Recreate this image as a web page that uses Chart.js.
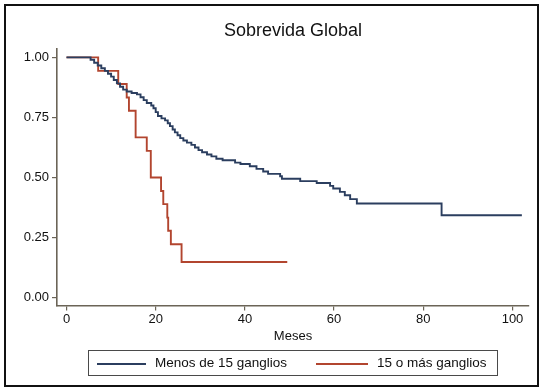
<!DOCTYPE html>
<html>
<head>
<meta charset="utf-8">
<script src="https://cdn.jsdelivr.net/npm/chart.js@4.4.1/dist/chart.umd.min.js"></script>
<style>
  html, body { margin: 0; padding: 0; background: #fff; }
  body { width: 543px; height: 389px; position: relative; overflow: hidden; font-family: "Liberation Sans", Arial, sans-serif; }
  #c { position: absolute; left: 0; top: 0; }
  #frame { position: absolute; left: 4px; top: 4px; width: 531px; height: 379px; border: 2px solid #111; pointer-events: none; }
  #legend { position: absolute; left: 88px; top: 350px; width: 408px; height: 24px; border: 1.5px solid #4a4a4a; }
  .sw { position: absolute; height: 1.8px; top: 12px; }
  .lb { position: absolute; top: 3px; font-size: 13.5px; line-height: 18px; color: #111; white-space: nowrap; }
</style>
</head>
<body>
<canvas id="c" width="543" height="389"></canvas>
<div id="frame"></div>
<div id="legend"></div>
<script>
// ---- data ----
const seriesNames = ["Menos de 15 ganglios", "15 o más ganglios"];
const seriesColors = ["#2b3e5f", "#b2452f"];

const menosTime = [0, 5.4, 6.2, 7.0, 7.8, 8.6, 9.3, 10.0, 10.6, 11.3, 12.0, 12.7, 13.5, 14.6, 15.8, 16.6, 17.3, 18.0, 19.0, 19.5, 20.0, 20.5, 21.3, 22.1, 22.7, 23.2, 23.8, 24.3, 24.9, 25.5, 26.2, 27.0, 28.0, 28.8, 29.6, 30.4, 31.5, 32.5, 33.6, 35.0, 37.8, 39.0, 41.1, 42.6, 44.1, 45.2, 47.9, 48.3, 52.4, 56.1, 59.1, 59.8, 61.3, 62.4, 63.6, 65.1, 84.1, 102.1];
const menosSurv = [1.0, 0.99, 0.978, 0.966, 0.955, 0.944, 0.932, 0.92, 0.906, 0.892, 0.878, 0.866, 0.858, 0.852, 0.846, 0.834, 0.822, 0.81, 0.8, 0.788, 0.772, 0.756, 0.746, 0.738, 0.726, 0.714, 0.7, 0.688, 0.676, 0.664, 0.654, 0.645, 0.636, 0.625, 0.614, 0.605, 0.596, 0.588, 0.578, 0.572, 0.562, 0.556, 0.547, 0.536, 0.525, 0.515, 0.505, 0.495, 0.485, 0.477, 0.465, 0.454, 0.44, 0.426, 0.41, 0.392, 0.343, 0.343];

const masTime = [0, 7.1, 11.6, 13.5, 14.0, 15.5, 18.0, 18.9, 21.2, 21.7, 22.6, 22.8, 23.4, 25.8, 49.5];
const masSurv = [1.0, 0.944, 0.889, 0.833, 0.778, 0.667, 0.611, 0.5, 0.444, 0.389, 0.333, 0.278, 0.222, 0.148, 0.148];

const xTicks = [0, 20, 40, 60, 80, 100];
const yTicks = [0, 0.25, 0.5, 0.75, 1.0];
const titleText = "Sobrevida Global";
const xTitle = "Meses";

// ---- build ----
const toPts = (t, s) => t.map((v, i) => ({ x: v, y: s[i] }));
const axisColor = "#6b6457";
const textColor = "#111111";
const FONT = "'Liberation Sans', Arial, sans-serif";

new Chart(document.getElementById("c"), {
  type: "line",
  data: {
    datasets: [
      { label: seriesNames[0], data: toPts(menosTime, menosSurv), borderColor: seriesColors[0], borderWidth: 1.9, stepped: true, pointRadius: 0, fill: false },
      { label: seriesNames[1], data: toPts(masTime, masSurv), borderColor: seriesColors[1], borderWidth: 1.9, stepped: true, pointRadius: 0, fill: false }
    ]
  },
  options: {
    responsive: false,
    animation: false,
    devicePixelRatio: 1,
    layout: { padding: { left: 0, right: 14, top: 0, bottom: 43.5 } },
    plugins: {
      legend: { display: false },
      tooltip: { enabled: false },
      title: {
        display: true, text: titleText, fullSize: false,
        font: { family: FONT, size: 18, weight: "normal" }, color: textColor,
        padding: { top: 19.9, bottom: 7.5 }
      }
    },
    scales: {
      x: {
        type: "linear", min: -2.13, max: 103.7,
        afterBuildTicks: s => { s.ticks = xTicks.map(v => ({ value: v })); },
        afterFit: s => { s.height = 40; },
        grid: { drawOnChartArea: false, drawTicks: true, tickLength: 5, color: axisColor, lineWidth: 1.2 },
        border: { display: true, color: axisColor, width: 1.6 },
        ticks: { font: { family: FONT, size: 13 }, color: textColor, padding: 1, maxRotation: 0, autoSkip: false, callback: v => String(v) },
        title: { display: true, text: xTitle, font: { family: FONT, size: 13 }, color: textColor, padding: { top: 0, bottom: 1 } }
      },
      y: {
        type: "linear", min: -0.033, max: 1.035,
        afterBuildTicks: s => { s.ticks = yTicks.map(v => ({ value: v })); },
        afterFit: s => { s.width = 57; },
        grid: { drawOnChartArea: false, drawTicks: true, tickLength: 5, color: axisColor, lineWidth: 1.2 },
        border: { display: true, color: axisColor, width: 1.6 },
        ticks: { font: { family: FONT, size: 13 }, color: textColor, padding: 3, autoSkip: false, callback: v => Number(v).toFixed(2) }
      }
    }
  }
});

// ---- legend (HTML text) ----
const leg = document.getElementById("legend");
const legItems = [
  { sw: [8, 57], lb: 66 },
  { sw: [227, 279], lb: 288 }
];
seriesNames.forEach((name, i) => {
  const sw = document.createElement("div");
  sw.className = "sw";
  sw.style.left = legItems[i].sw[0] + "px";
  sw.style.width = (legItems[i].sw[1] - legItems[i].sw[0]) + "px";
  sw.style.background = seriesColors[i];
  leg.appendChild(sw);
  const lb = document.createElement("div");
  lb.className = "lb";
  lb.style.left = legItems[i].lb + "px";
  lb.textContent = name;
  leg.appendChild(lb);
});
</script>
</body>
</html>
